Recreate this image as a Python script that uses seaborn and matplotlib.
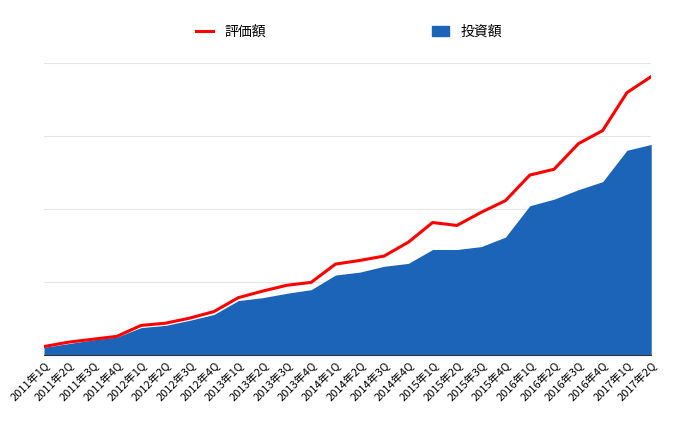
import matplotlib
matplotlib.use("Agg")
import matplotlib.pyplot as plt
import seaborn as sns
import pandas as pd
from matplotlib.patches import Patch
from matplotlib.lines import Line2D

plt.rcParams["font.family"] = "Noto Sans CJK JP"

quarters = [f"{y}年{q}Q" for y in range(2011, 2018) for q in range(1, 5)][:26]
invest = [11,16,21,25,38,41,48,56,75,79,85,90,110,114,122,126,145,145,149,162,205,214,227,238,281,289]
value = [12,18,22,26,41,44,51,60,79,88,96,100,125,130,136,155,182,178,196,212,247,255,290,308,360,382]

df = pd.DataFrame({"q": quarters, "x": range(len(quarters)), "invest": invest, "value": value})

fig = plt.figure(figsize=(6.98, 4.23), dpi=100)
ax = fig.add_axes([0.063, 0.16, 0.87, 0.69])
ax.fill_between(df["x"], 0, df["invest"], color="#1c64b8", linewidth=0)
sns.lineplot(data=df, x="x", y="value", color="#ff0000", linewidth=2.2, ax=ax)
ax.set_xlim(0, len(quarters) - 1)
ax.set_ylim(0, 400)
ax.set_yticks([0, 100, 200, 300, 400])
ax.set_yticklabels([])
ax.tick_params(axis="y", length=0)
ax.grid(axis="y", color="#e6e6e6", linewidth=0.8)
ax.set_axisbelow(True)
ax.set_xticks(df["x"])
ax.set_xticklabels(quarters, rotation=45, ha="right", fontsize=8, rotation_mode="anchor")
ax.tick_params(axis="x", length=0, pad=3)
for s in ["top", "right", "left"]:
    ax.spines[s].set_visible(False)
ax.spines["bottom"].set_color("#333333")
ax.set_xlabel("")
ax.set_ylabel("")
handles = [Line2D([0], [0], color="#ff0000", lw=2.2), Patch(color="#1c64b8")]
fig.legend(handles, ["評価額", "投資額"], loc="upper center", bbox_to_anchor=(0.5, 0.97),
           ncol=2, frameon=False, fontsize=10, columnspacing=12, handlelength=1.2)
fig.savefig("out.png", dpi=100)
